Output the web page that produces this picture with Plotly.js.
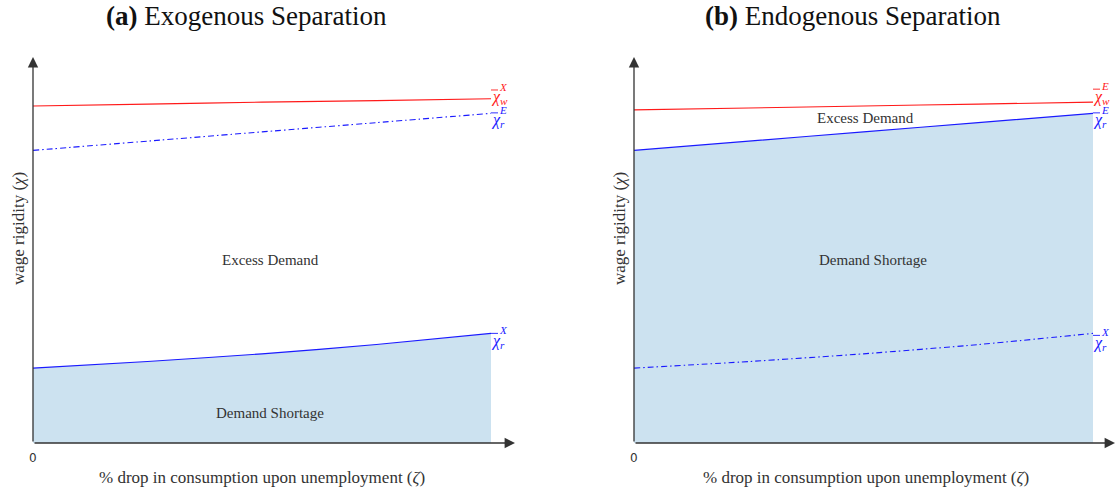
<!DOCTYPE html>
<html>
<head>
<meta charset="utf-8">
<script src="https://cdn.plot.ly/plotly-3.0.1.min.js"></script>
<style>html,body{margin:0;padding:0;background:#fff;}#chart{width:1119px;height:492px;}</style>
</head>
<body>
<div id="chart"></div>
<script>
// ---- data (units: fraction of y-axis height) ----
const zeta = [0, 0.25, 0.5, 0.75, 1];
const chiWX = [0.873, 0.878, 0.883, 0.887, 0.892];   // panel (a) red
const chiWE = [0.863, 0.868, 0.873, 0.878, 0.883];   // panel (b) red
const chiRE = [0.758, 0.782, 0.806, 0.830, 0.854];   // blue (E)
const chiRX = [0.194, 0.211, 0.231, 0.255, 0.284];   // blue (X)
const panelTitles = ['<b>(a)</b> Exogenous Separation', '<b>(b)</b> Endogenous Separation'];
const regionLabelsA = ['Excess Demand', 'Demand Shortage'];
const regionLabelsB = ['Excess Demand', 'Demand Shortage'];
const xLabel = '% drop in consumption upon unemployment (<i>ζ</i>)';
const yLabel = 'wage rigidity (<i>χ</i>)';

const RED = '#ff1a1a', BLUE = '#1a1aff', FILL = 'rgb(204,226,240)';
const SERIF = 'Liberation Serif, Times New Roman, serif';
const DASHDOT = '6px,3px,1.5px,3px';

function line(x, y, color, dash, xa, ya, fill) {
  const t = {x: x, y: y, type: 'scatter', mode: 'lines', xaxis: xa, yaxis: ya,
    line: {color: color, width: 1.1, dash: dash || 'solid', shape: 'spline', smoothing: 0.6},
    hoverinfo: 'skip'};
  if (fill) { t.fill = 'tozeroy'; t.fillcolor = FILL; }
  return t;
}

const traces = [
  line(zeta, chiRX, BLUE, 'solid', 'x', 'y', true),
  line(zeta, chiWX, RED, 'solid', 'x', 'y'),
  line(zeta, chiRE, BLUE, DASHDOT, 'x', 'y'),
  line(zeta, chiRE, BLUE, 'solid', 'x2', 'y2', true),
  line(zeta, chiWE, RED, 'solid', 'x2', 'y2'),
  line(zeta, chiRX, BLUE, DASHDOT, 'x2', 'y2'),
];

const W = 1119, H = 492;
const xTipA = (515 - 33) / 458, xTipB = (1115 - 634) / 459;
const yTip = 1.0;

const ann = [];
const shapes = [];
// axes arrows, origin tick, axis titles
[['x','y',xTipA, 262],['x2','y2',xTipB, 866]].forEach(([xr, yr, tip, xc]) => {
  ann.push({xref: xr, yref: yr, axref: xr, ayref: yr, x: tip, y: 0, ax: 0, ay: 0, text: '',
    showarrow: true, arrowhead: 2, arrowsize: 1.6, arrowwidth: 1.3, arrowcolor: '#333'});
  ann.push({xref: xr, yref: yr, axref: xr, ayref: yr, x: 0, y: yTip, ax: 0, ay: 0, text: '',
    showarrow: true, arrowhead: 2, arrowsize: 1.6, arrowwidth: 1.3, arrowcolor: '#333'});
  ann.push({xref: xr, yref: yr, x: 0, y: 0, yshift: -15, text: '0', showarrow: false,
    xanchor: 'center', yanchor: 'middle',
    font: {family: 'DejaVu Sans, sans-serif', size: 12, color: '#333'}});
  ann.push({xref: 'paper', yref: 'paper', x: xc / W, y: (H - 477) / H, text: xLabel, showarrow: false,
    xanchor: 'center', yanchor: 'middle', font: {family: SERIF, size: 17, color: '#333'}});
  ann.push({xref: xr + ' domain', yref: 'paper', x: 0, xshift: -15, y: (H - 229) / H, text: yLabel,
    showarrow: false, textangle: -90, xanchor: 'center', yanchor: 'middle',
    font: {family: SERIF, size: 17, color: '#333'}});
});
// titles
ann.push({xref: 'paper', yref: 'paper', x: 246 / W, y: 1, text: panelTitles[0], showarrow: false,
  xanchor: 'center', yanchor: 'top', borderpad: 0, font: {family: SERIF, size: 27, color: '#111'}});
ann.push({xref: 'paper', yref: 'paper', x: 853 / W, y: 1, text: panelTitles[1], showarrow: false,
  xanchor: 'center', yanchor: 'top', borderpad: 0, font: {family: SERIF, size: 27, color: '#111'}});
// region labels
function txt(xr, yr, xd, yd, s) {
  ann.push({xref: xr, yref: yr, x: xd, y: yd, text: s, showarrow: false, xanchor: 'center', yanchor: 'middle',
    font: {family: SERIF, size: 15, color: '#333'}});
}
txt('x', 'y', 0.518, (443 - 260) / 386, regionLabelsA[0]);
txt('x', 'y', 0.518, (443 - 413) / 386, regionLabelsA[1]);
txt('x2', 'y2', 0.505, (443 - 118) / 386, regionLabelsB[0]);
txt('x2', 'y2', 0.520, (443 - 260) / 386, regionLabelsB[1]);

// line-end labels: chi with overline, subscript and superscript
// oy = pixel height of the overline above the line end
function endLabel(xr, yr, yEnd, sub, sup, color, oy) {
  ann.push({xref: xr, yref: yr, x: 1, y: yEnd, xanchor: 'left', yanchor: 'middle', xshift: -2, yshift: oy - 8,
    text: '<i>χ</i><sub><i>' + sub + '</i></sub>',
    showarrow: false, font: {family: SERIF, size: 16, color: color}});
  ann.push({xref: xr, yref: yr, x: 1, y: yEnd, xanchor: 'left', yanchor: 'middle', xshift: 6, yshift: oy + 3,
    text: '<i>' + sup + '</i>', showarrow: false, font: {family: SERIF, size: 11, color: color}});
  shapes.push({type: 'line', xref: xr, yref: yr, xsizemode: 'pixel', ysizemode: 'pixel',
    xanchor: 1, yanchor: yEnd, x0: 0, x1: 7, y0: oy, y1: oy,
    line: {color: color, width: 0.9}});
}
endLabel('x', 'y', chiWX[4], 'w', 'X', RED, 8.7);
endLabel('x', 'y', chiRE[4], 'r', 'E', BLUE, 0.5);
endLabel('x', 'y', chiRX[4], 'r', 'X', BLUE, 0);
endLabel('x2', 'y2', chiWE[4], 'w', 'E', RED, 13);
endLabel('x2', 'y2', chiRE[4], 'r', 'E', BLUE, 0.5);
endLabel('x2', 'y2', chiRX[4], 'r', 'X', BLUE, -2);

const ax = (dom, rng) => ({domain: dom, range: rng, visible: false, fixedrange: true});
const layout = {
  width: W, height: H, margin: {l: 0, r: 0, t: 0, b: 0},
  paper_bgcolor: '#fff', plot_bgcolor: 'rgba(0,0,0,0)', showlegend: false,
  xaxis: Object.assign(ax([33 / W, 515 / W], [0, xTipA]), {anchor: 'y'}),
  yaxis: Object.assign(ax([(H - 443) / H, (H - 57) / H], [0, 1]), {anchor: 'x'}),
  xaxis2: Object.assign(ax([634 / W, 1115 / W], [0, xTipB]), {anchor: 'y2'}),
  yaxis2: Object.assign(ax([(H - 443) / H, (H - 57) / H], [0, 1]), {anchor: 'x2'}),
  annotations: ann,
  shapes: shapes,
};
Plotly.newPlot('chart', traces, layout, {staticPlot: true, displayModeBar: false});
</script>
</body>
</html>
